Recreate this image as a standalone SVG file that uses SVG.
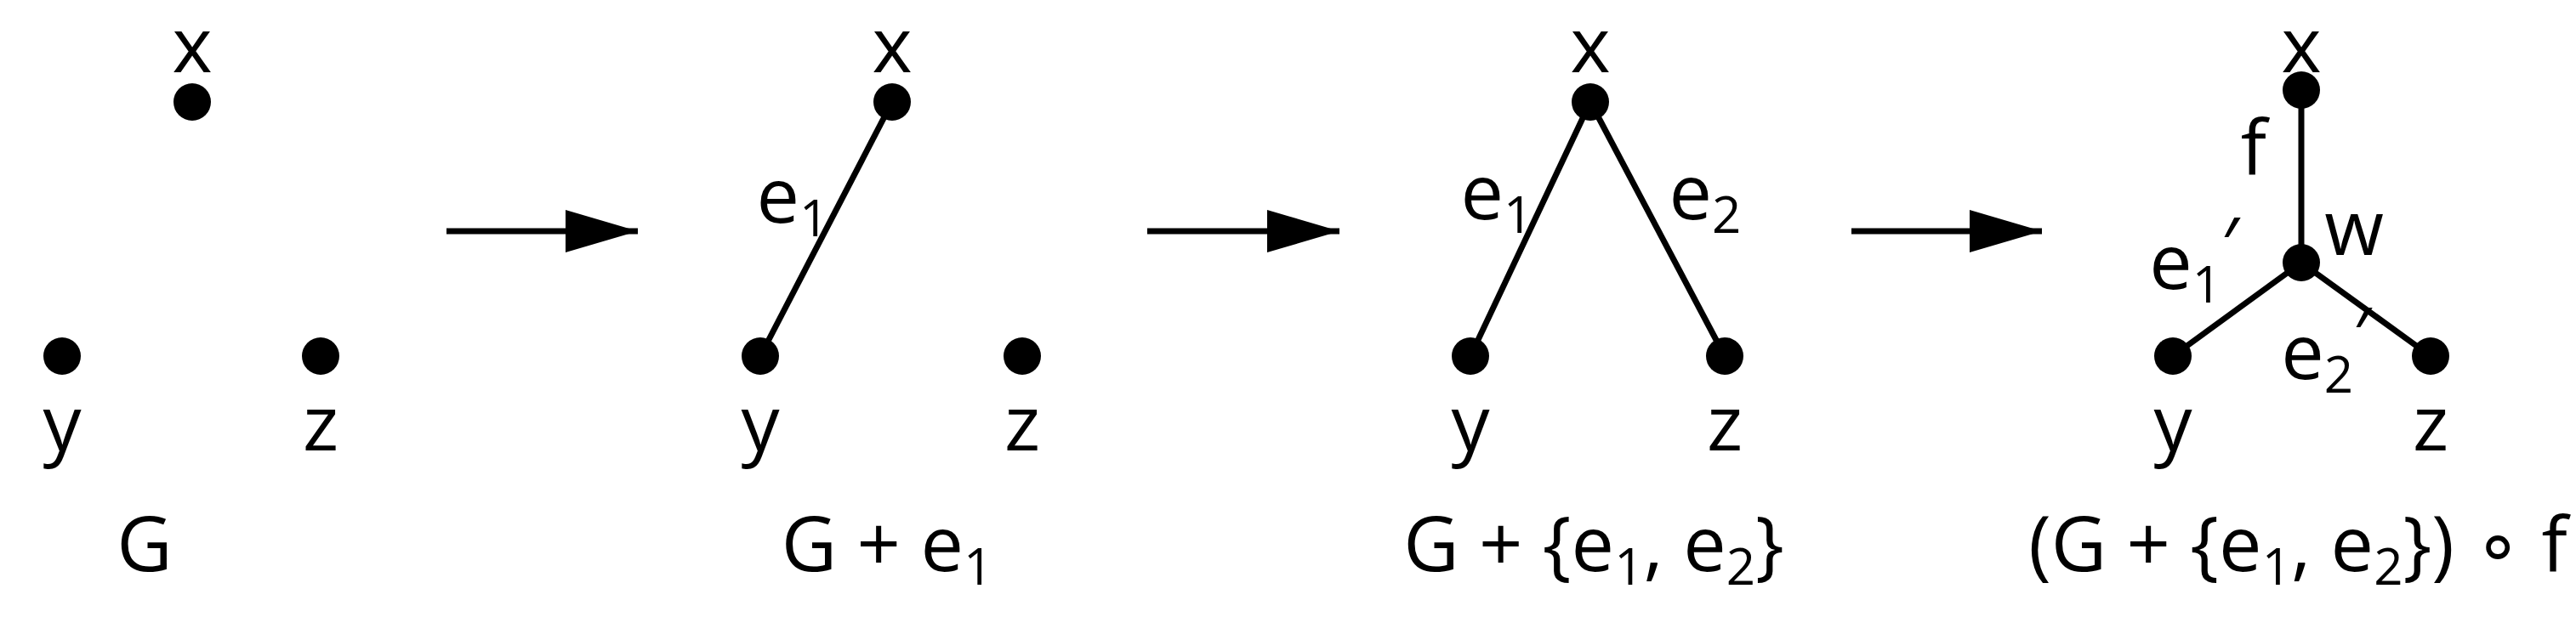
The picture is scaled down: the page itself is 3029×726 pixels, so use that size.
<svg xmlns="http://www.w3.org/2000/svg" width="3029" height="726" viewBox="0 0 3029 726">
<style>
text{font-family:"Open Sans","Liberation Sans",sans-serif;font-size:90px;fill:#000;text-anchor:middle}
.s{font-size:60px}
.e{stroke:#000;stroke-width:7;fill:none}
.n{fill:#000}
</style>
<defs>
<marker id="a" viewBox="0 0 85 50" refX="85" refY="25" markerWidth="85" markerHeight="50" markerUnits="userSpaceOnUse" orient="auto"><path d="M0 0L85 25L0 50Z" fill="#000"/></marker></defs>
<g id="connectors">
<line class="e" x1="525" y1="272" x2="750" y2="272" marker-end="url(#a)"/>
<line class="e" x1="1349" y1="272" x2="1575" y2="272" marker-end="url(#a)"/>
<line class="e" x1="2177" y1="272" x2="2401" y2="272" marker-end="url(#a)"/>
<line class="e" x1="1049" y1="120" x2="894" y2="419"/>
<line class="e" x1="1870" y1="120" x2="1729" y2="419"/>
<line class="e" x1="1870" y1="120" x2="2028" y2="419"/>
<line class="e" x1="2706" y1="106" x2="2706" y2="309"/>
<line class="e" x1="2706" y1="309" x2="2555" y2="419"/>
<line class="e" x1="2706" y1="309" x2="2858" y2="419"/>
</g>
<g id="p1">
<circle class="n" cx="226" cy="120" r="22"/><circle class="n" cx="73" cy="419" r="22"/><circle class="n" cx="377" cy="419" r="22"/>
<text x="226" y="85">x</text><text x="73" y="530">y</text><text x="377" y="530">z</text><text x="170" y="672">G</text>
</g>
<g id="p2">
<circle class="n" cx="1049" cy="120" r="22"/><circle class="n" cx="894" cy="419" r="22"/><circle class="n" cx="1202" cy="419" r="22"/>
<text x="1049" y="85">x</text><text x="894" y="530">y</text><text x="1202" y="530">z</text>
<text x="932" y="262">e<tspan class="s" dy="16">1</tspan></text>
<text x="1043" y="672">G + e<tspan class="s" dy="16">1</tspan></text>
</g>
<g id="p3">
<circle class="n" cx="1870" cy="120" r="22"/><circle class="n" cx="1729" cy="419" r="22"/><circle class="n" cx="2028" cy="419" r="22"/>
<text x="1870" y="85">x</text><text x="1729" y="530">y</text><text x="2028" y="530">z</text>
<text x="1760" y="258">e<tspan class="s" dy="16">1</tspan></text>
<text x="2005" y="258">e<tspan class="s" dy="16">2</tspan></text>
<text x="1874" y="672">G + {e<tspan class="s" dy="16">1</tspan><tspan dy="-16">, e</tspan><tspan class="s" dy="16">2</tspan><tspan dy="-16">}</tspan></text>
</g>
<g id="p4">
<circle class="n" cx="2706" cy="106" r="22"/><circle class="n" cx="2706" cy="309" r="22"/><circle class="n" cx="2555" cy="419" r="22"/><circle class="n" cx="2858" cy="419" r="22"/>
<text x="2706" y="85">x</text><text x="2555" y="530">y</text><text x="2858" y="530">z</text>
<text x="2650" y="205">f</text><text x="2768" y="300">w</text>
<text x="2580" y="340">e<tspan class="s" dy="16">1</tspan><tspan dy="-36">′</tspan></text>
<text x="2735" y="446">e<tspan class="s" dy="16">2</tspan><tspan dy="-36">′</tspan></text>
<text x="2702" y="672">(G + {e<tspan class="s" dy="16">1</tspan><tspan dy="-16">, e</tspan><tspan class="s" dy="16">2</tspan><tspan dy="-16">}) ∘ f</tspan></text>
</g>
</svg>
